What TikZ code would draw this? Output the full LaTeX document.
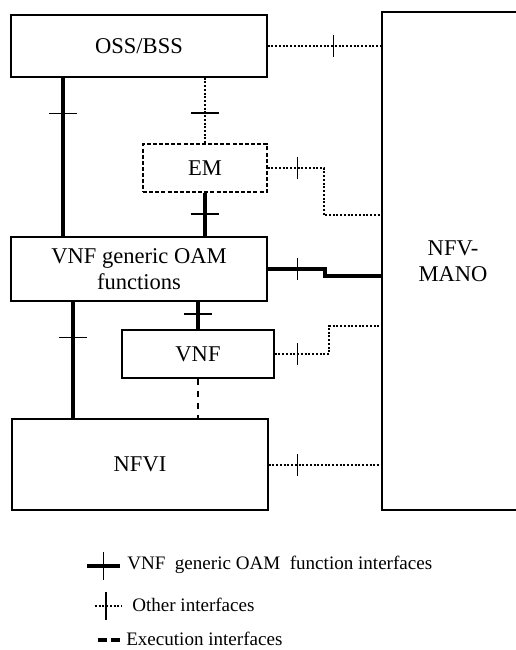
\documentclass[tikz,border=0pt]{standalone}
\usepackage{fontspec}
\setmainfont{Liberation Serif}
\usetikzlibrary{decorations.markings}
\begin{document}
\begin{tikzpicture}[x=0.75pt,y=-0.75pt,
  box/.style={draw, line width=1.1pt, rectangle, inner sep=0pt, align=center,
    font=\fontsize{16.9}{19.5}\selectfont},
  thickif/.style={line width=3pt},
  otherif/.style={line width=2pt, dash pattern=on 1.5pt off 1.3pt},
  execif/.style={line width=2pt, dash pattern=on 5pt off 4pt},
  vtick/.style={postaction={decorate, decoration={markings,
    mark=at position #1 with {\draw[solid, line width=1.1pt] (0,-14) -- (0,14);}}}},
  htick/.style={postaction={decorate, decoration={markings,
    mark=at position #1 with {\draw[solid, line width=1.1pt] (0,-11) -- (0,11);}}}},
  legtext/.style={inner sep=0pt, anchor=west, font=\fontsize{14.3}{17}\selectfont},
]
\useasboundingbox (0,0) rectangle (516,650);

% boxes
\node[box, minimum width=192pt, minimum height=46.5pt] (oss) at (139,46) {OSS/BSS};
\node[box, dash pattern=on 3pt off 1.6pt, minimum width=93pt, minimum height=36pt] (em) at (205,168) {EM};
\node[box, minimum width=192pt, minimum height=48pt] (vnfg) at (139,269) {VNF generic OAM\\functions};
\node[box, minimum width=114pt, minimum height=36pt] (vnf) at (198,354) {VNF};
\node[box, minimum width=192pt, minimum height=68.25pt] (nfvi) at (140,464.5) {NFVI};
\node[box, minimum width=106.5pt, minimum height=373.5pt] (mano) at (453,261) {NFV-\\MANO};

% helper coordinates
\coordinate (x63) at (63,0);
\coordinate (x73) at (73,0);
\coordinate (x324) at (324,0);
\coordinate (x325) at (325,0);
\coordinate (x329) at (329,0);
\coordinate (y215) at (0,215);
\coordinate (y276) at (0,276);
\coordinate (y326) at (0,326);
\coordinate (y465) at (0,465);

% connectors
\draw[thickif, vtick=0.225] (oss.south -| x63) -- (vnfg.north -| x63);
\draw[otherif, vtick=0.54] (oss.south -| em.north) -- (em.north);
\draw[thickif, vtick=0.49] (em.south) -- (vnfg.north -| em.south);
\draw[otherif, htick=0.58] (oss.east) -- (mano.west |- oss.east);
\draw[otherif, htick=0.185] (em.east) -- (x324 |- em.east) -- (x324 |- y215) -- (mano.west |- y215);
\draw[thickif, htick=0.248] (vnfg.east) -- (x325 |- vnfg.east) -- (x325 |- y276) -- (mano.west |- y276);
\draw[thickif, vtick=0.305] (vnfg.south -| x73) -- (nfvi.north -| x73);
\draw[thickif, vtick=0.45] (vnfg.south -| vnf.north) -- (vnf.north);
\draw[otherif, htick=0.169] (vnf.east) -- (x329 |- vnf.east) -- (x329 |- y326) -- (mano.west |- y326);
\draw[execif] (vnf.south) -- (nfvi.north -| vnf.south);
\draw[otherif, htick=0.254] (nfvi.east |- y465) -- (mano.west |- y465);

% legend
\coordinate (la1) at (87,566);
\coordinate (lb1) at (120,566);
\coordinate (la2) at (95,606);
\coordinate (lb2) at (122,606);
\coordinate (la3) at (98,640);
\coordinate (lb3) at (120,640);
\draw[thickif, vtick=0.5] (la1) -- (lb1);
\draw[otherif, vtick=0.4] (la2) -- (lb2);
\draw[line width=2.4pt, dash pattern=on 6.5pt off 3.5pt] (la3) -- (lb3);
\node[legtext] (l1) at (127,565) {VNF\ \ generic OAM\ \ function interfaces};
\node[legtext] (l2) at (132,605) {Other interfaces};
\node[legtext] (l3) at (126,639) {Execution interfaces};
\end{tikzpicture}
\end{document}
